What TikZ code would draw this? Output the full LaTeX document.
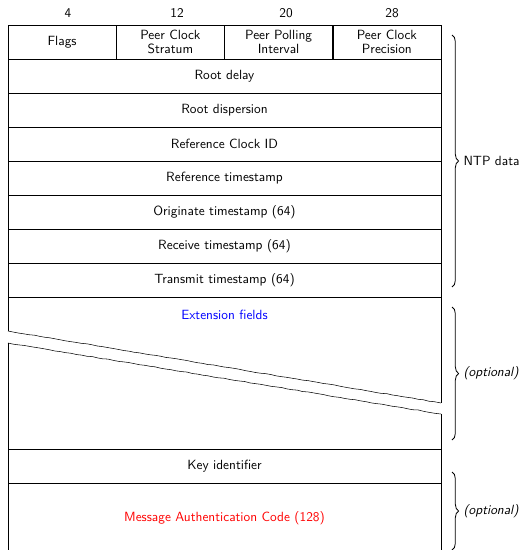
\documentclass[tikz,border=0pt]{standalone}
\usetikzlibrary{decorations.pathreplacing,decorations.pathmorphing}

\begin{document}
\begin{tikzpicture}[x=0.75pt, y=-0.75pt, font=\sffamily,
		field/.style={rectangle, draw, inner sep=0pt, minimum height=25.5pt, align=center, font=\sffamily},
		wide/.style={field, minimum width=324.75pt},
		quarter/.style={field, minimum width=81.19pt, font=\sffamily\linespread{0.88}\selectfont},
		optbrace/.style={semithick, decorate, decoration={brace, amplitude=5pt}},
		breakline/.style={decorate, decoration={random steps, segment length=4pt, amplitude=0.25pt}}]
		\useasboundingbox (0,0) rectangle (523,550);
		\clip (0,0) rectangle (523,550);
		
		% bit offsets
		\node (b4) at (68,13) {4};
		\node (b12) at (177,13) {12};
		\node (b20) at (286,13) {20};
		\node (b28) at (392,13) {28};
		
		% header fields
		\node[quarter] (flags) at (62.1,42) {Flags};
		\node[quarter] (stratum) at (170.4,42) {Peer Clock\\Stratum};
		\node[quarter] (poll) at (278.6,42) {Peer Polling\\Interval};
		\node[quarter] (precision) at (386.9,42) {Peer Clock\\Precision};
		\node[wide] (rootdelay) at (224.5,76) {Root delay};
		\node[wide] (rootdisp) at (224.5,110) {Root dispersion};
		\node[wide] (refid) at (224.5,144) {Reference Clock ID};
		\node[wide] (refts) at (224.5,178) {Reference timestamp};
		\node[wide] (origts) at (224.5,212) {Originate timestamp (64)};
		\node[wide] (rxts) at (224.5,246) {Receive timestamp (64)};
		\node[wide] (txts) at (224.5,280) {Transmit timestamp (64)};
		
		% extension fields, broken
		\draw (8,331) -- (8,297) -- (441,297) -- (441,403);
		\draw[breakline] (8,331) -- (441,403);
		\draw (441,414) -- (441,449) -- (8,449) -- (8,343);
		\draw[breakline] (8,343) -- (441,414);
		\node[blue] (extf) at (224.5,315) {Extension fields};
		
		% authentication
		\node[wide] (keyid) at (224.5,466) {Key identifier};
		\node[wide, minimum height=52.5pt, text=red] (mac) at (224.5,518) {Message Authentication Code (128)};
		
		% braces
		\coordinate (ntptop) at (452,35);
		\coordinate (ntpbot) at (452,287);
		\draw[optbrace] (ntptop) -- (ntpbot) node[midway, right=5pt] (ntplabel) {NTP data};
		\coordinate (exttop) at (452,307);
		\coordinate (extbot) at (452,440);
		\draw[optbrace] (exttop) -- (extbot) node[midway, right=5pt, font=\sffamily\itshape] (extlabel) {(optional)};
		\coordinate (mactop) at (452,472);
		\coordinate (macbot) at (452,550);
		\draw[optbrace] (mactop) -- (macbot) node[midway, right=5pt, font=\sffamily\itshape] (maclabel) {(optional)};
		
	\end{tikzpicture}
\end{document}
